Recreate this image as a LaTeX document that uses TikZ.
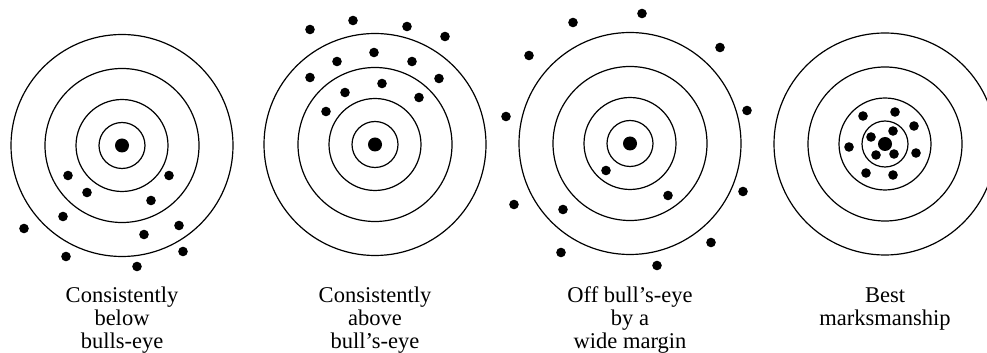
\documentclass[tikz,border=0pt]{standalone}
\usepackage{fontspec}
\setmainfont{Liberation Serif}
\usepackage{xcolor}
\usepackage{tikz}
\usetikzlibrary{positioning}

\begin{document}
\begin{tikzpicture}[x=1pt, y=1pt,
		ring/.style={line width=1.2pt, black},
		shot/.style={fill=black},
		caption/.style={font=\fontsize{22.5}{23.5}\selectfont, align=center, inner sep=0pt, anchor=base}]
	\useasboundingbox (0,0) rectangle (987,353);
	\clip (0,0) rectangle (987,353);
	% Consistently below
	\begin{scope}[shift={(122,207.5)}]
		\foreach \r in {23,46,77,111} \draw[ring] (0,0) circle (\r);
		\fill[shot] (0,0) circle (7);
		\foreach \x/\y in {-54/-30, -35/-47, 47/-30, 29/-55, -59/-71, -98/-83, 22/-89, 57/-80, -56/-111, 61/-106, 15/-121}
			\fill[shot] (\x,\y) circle (4.8);
	\end{scope}
	% Consistently above
	\begin{scope}[shift={(375,208.5)}]
		\foreach \r in {23,46,77,111} \draw[ring] (0,0) circle (\r);
		\fill[shot] (0,0) circle (7);
		\foreach \x/\y in {-65/115, -22/124, 32/118, 70/108, -38/83, -1/92, 37/83, -65/67, -30/52, 7/61, 64/66, 44/47, -49/33}
			\fill[shot] (\x,\y) circle (4.8);
	\end{scope}
	% Wide margin
	\begin{scope}[shift={(630,209.5)}]
		\foreach \r in {23,46,77,111} \draw[ring] (0,0) circle (\r);
		\fill[shot] (0,0) circle (7);
		\foreach \x/\y in {12/130, -57/121, 90/96, -101/88, 117/33, -124/27, -24/-27, 38/-52, 113/-48, -116/-61, -67/-66, 81/-99, -69/-109, 27/-122}
			\fill[shot] (\x,\y) circle (4.8);
	\end{scope}
	% Best
	\begin{scope}[shift={(885,209)}]
		\foreach \r in {23,46,77,111} \draw[ring] (0,0) circle (\r);
		\fill[shot] (0,0) circle (7);
		\foreach \x/\y in {-22/28, 10/32, 29/18, -14/7, 8/13, -36/-3, -9/-11, 9/-10, 31/-9, -19/-29, 8/-31}
			\fill[shot] (\x,\y) circle (4.8);
	\end{scope}
	% Captions (base = last line)
	\node[caption] (capBelow) at (122,4) {Consistently\\below\\bulls-eye};
	\node[caption] (capAbove) at (375,4) {Consistently\\above\\bull's-eye};
	\node[caption] (capWide) at (630,4) {Off bull's-eye\\by a\\wide margin};
	\node[caption] (capBest) at (885,27) {Best\\marksmanship};
\end{tikzpicture}
\end{document}
